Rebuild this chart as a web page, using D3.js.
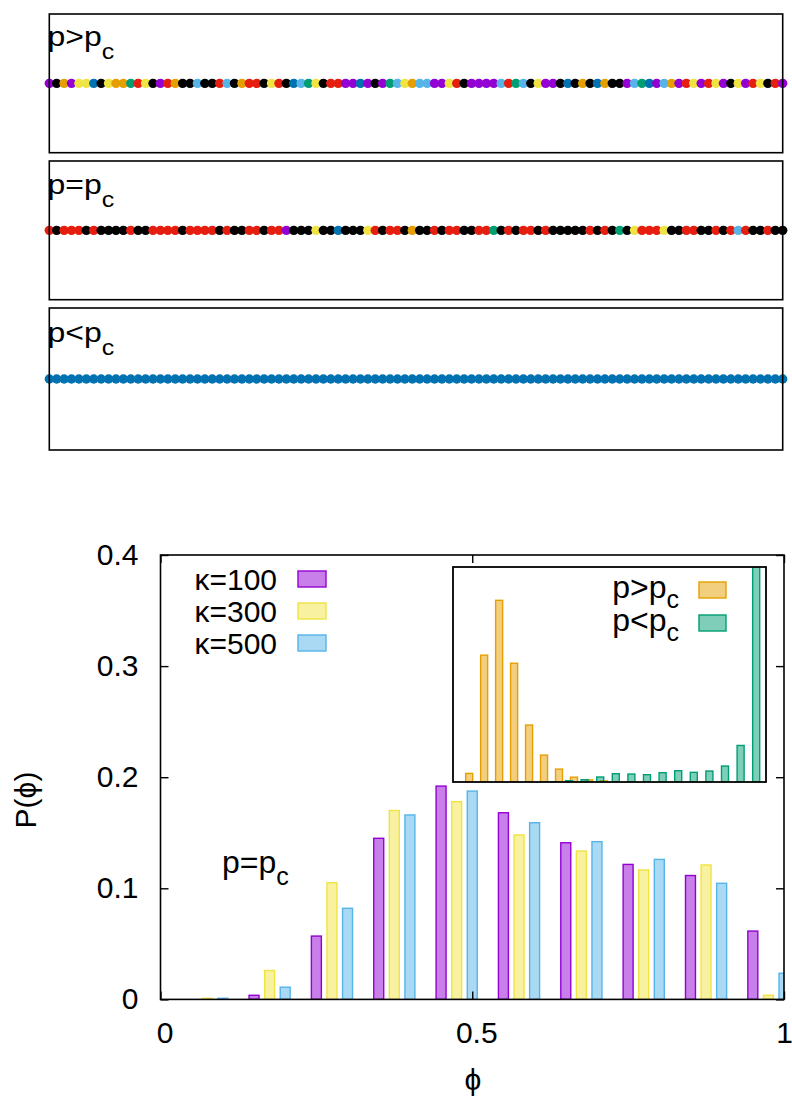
<!DOCTYPE html>
<html><head><meta charset="utf-8">
<script src="https://cdn.jsdelivr.net/npm/d3@7"></script>
<style>
html,body{margin:0;padding:0;background:#fff;}
svg{display:block;font-family:"Liberation Sans",Arial,Helvetica,sans-serif;}
</style></head><body>
<svg id="chart" width="792" height="1098"></svg>
<script>
// ---------- top strips (one dot per site, colour = cluster) ----------
const stripLabels = ["p>p", "p=p", "p<p"];
const stripSub = "c";
const stripRow1 = "PKOPYYBKYO" + "OGRYKPROKK" + "LKKRLKORRK" + "YRKBLGYKRR" + "PPBPKPGLYO" +
                  "LLPPYRKPPP" + "PLRGLKYPPK" + "BKOKBOKKPL" + "GBPLOPRYPR" + "YPKYPRYKRP";
const stripRow2 = "RKRRRKRKKK" + "KRKKRRRRKR" + "RRRKRKKRRK" + "RRPKKKYKKB" + "KKKYRKRRKO" +
                  "KKRKRRKKRR" + "GKRKRRKRKK" + "KKKRKRKGKY" + "RRRYKKRRKK" + "RKRLRKKRKK";
const stripRow3 = "BBBBBBBBBB" + "BBBBBBBBBB" + "BBBBBBBBBB" + "BBBBBBBBBB" + "BBBBBBBBBB" +
                  "BBBBBBBBBB" + "BBBBBBBBBB" + "BBBBBBBBBB" + "BBBBBBBBBB" + "BBBBBBBBBB";
const colorKeys   = ["P", "G", "L", "O", "Y", "B", "R", "K"];
const colorValues = ["#9400d3", "#009e73", "#56b4e9", "#e69f00", "#f0e442", "#0072b2", "#e51e10", "#000000"];

// ---------- main histogram P(phi) at p = p_c ----------
const phiBins   = [0.05, 0.15, 0.25, 0.35, 0.45, 0.55, 0.65, 0.75, 0.85, 0.95];
const seriesNames = ["κ=100", "κ=300", "κ=500"];
const kappa100 = [0.0, 0.0037, 0.057, 0.145, 0.192, 0.168, 0.141, 0.1215, 0.1115, 0.0615];
const kappa300 = [0.0009, 0.026, 0.105, 0.170, 0.178, 0.148, 0.1335, 0.1165, 0.121, 0.0037];
const kappa500 = [0.001, 0.011, 0.082, 0.166, 0.1875, 0.159, 0.142, 0.126, 0.1045, 0.0235];
const seriesColors = ["#9400d3", "#f0e442", "#56b4e9"];
const xTicks = [0, 0.5, 1];
const xTickLabels = ["0", "0.5", "1"];
const yTicks = [0, 0.1, 0.2, 0.3, 0.4];
const yTickLabels = ["0", "0.1", "0.2", "0.3", "0.4"];
const annotation = "p=p";

// ---------- inset ----------
const insetNames = ["p>p", "p<p"];
const orangePhi = [0.055, 0.103, 0.151, 0.199, 0.247, 0.295, 0.343, 0.391, 0.439, 0.487];
const orangeP   = [0.016, 0.236, 0.338, 0.221, 0.106, 0.050, 0.024, 0.009, 0.004, 0.002];
const greenPhi  = [0.325, 0.375, 0.425, 0.475, 0.525, 0.575, 0.625, 0.675, 0.725, 0.775, 0.825, 0.875, 0.925, 0.975];
const greenP    = [0.0006, 0.0025, 0.0043, 0.0093, 0.0155, 0.0148, 0.0136, 0.0173, 0.021, 0.018, 0.0204, 0.0297, 0.068, 0.45];
const insetColors = ["#e69f00", "#009e73"];

// =====================================================================
const svg = d3.select("#chart");
const color = d3.scaleOrdinal().domain(colorKeys).range(colorValues);

// ---- strips ----
const stripLeft = 49.3, stripRight = 782.7;
const stripBoxes = [[14, 152.7], [161, 299.7], [308, 450]];
const stripBaselines = [46, 194, 342];
const stripRows = [stripRow1, stripRow2, stripRow3];
const stripX = d3.scaleLinear().domain([0, 99]).range([stripLeft, stripRight]);

stripRows.forEach((row, k) => {
  const [top, bot] = stripBoxes[k];
  const sy = d3.scaleLinear().domain([-1, 1]).range([bot, top]);
  const g = svg.append("g");
  g.selectAll("circle").data(row.split("")).join("circle")
    .attr("cx", (d, i) => stripX(i))
    .attr("cy", sy(0))
    .attr("r", 4.7)
    .attr("fill", d => color(d));
  g.append("rect")
    .attr("x", stripLeft).attr("y", top)
    .attr("width", stripRight - stripLeft).attr("height", bot - top)
    .attr("fill", "none").attr("stroke", "#000").attr("stroke-width", 1.6);
  const lg = g.append("g").attr("transform", `translate(47.5,${stripBaselines[k]}) scale(1,0.88)`);
  const t = lg.append("text").attr("font-size", 32).attr("fill", "#000");
  t.append("tspan").text(stripLabels[k]);
  t.append("tspan").attr("font-size", 25).attr("dy", 15).text(stripSub);
});

// ---- main plot ----
const X0 = 160.5, X1 = 784, Y0 = 999.4, YT = 555;
const x = d3.scaleLinear().domain([0, 1]).range([X0, X1]);
const y = d3.scaleLinear().domain([0, 0.4]).range([Y0, YT]);

svg.append("clipPath").attr("id", "mainClip")
  .append("rect").attr("x", X0).attr("y", YT).attr("width", X1 - X0).attr("height", Y0 - YT);

const series = [kappa100, kappa300, kappa500];
const seriesShift = [0, 0.025, 0.05];
const barW = 0.016;
const bars = svg.append("g").attr("clip-path", "url(#mainClip)");
series.forEach((vals, s) => {
  bars.append("g").selectAll("rect").data(vals).join("rect")
    .attr("x", (d, i) => x(phiBins[i] + seriesShift[s] - barW / 2))
    .attr("width", x(barW) - x(0))
    .attr("y", d => y(d))
    .attr("height", d => y(0) - y(d))
    .attr("fill", seriesColors[s]).attr("fill-opacity", 0.5)
    .attr("stroke", seriesColors[s]).attr("stroke-width", 1.4);
});

// axes
const axisFont = 30;
const gL = svg.append("g").attr("transform", `translate(${X0},0)`)
  .call(d3.axisLeft(y).tickValues(yTicks).tickFormat((d, i) => yTickLabels[i]).tickSize(-8).tickPadding(22));
const gR = svg.append("g").attr("transform", `translate(${X1},0)`)
  .call(d3.axisRight(y).tickValues(yTicks).tickFormat("").tickSize(-8));
const gB = svg.append("g").attr("transform", `translate(0,${Y0})`)
  .call(d3.axisBottom(x).tickValues(xTicks).tickFormat((d, i) => xTickLabels[i]).tickSize(-8).tickPadding(22));
const gT = svg.append("g").attr("transform", `translate(0,${YT})`)
  .call(d3.axisTop(x).tickValues(xTicks).tickFormat("").tickSize(-8));
[gL, gR, gB, gT].forEach(g => {
  g.select(".domain").remove();
  g.selectAll(".tick line").attr("stroke", "#000").attr("stroke-width", 1.4);
  g.selectAll("text").attr("font-size", axisFont).attr("fill", "#000")
    .attr("font-family", '"Liberation Sans",Arial,sans-serif');
});
gL.selectAll("text").attr("dy", "0.3em");
gB.selectAll("text").attr("dx", (d, i) => i === xTicks.length - 1 ? 0 : 4).attr("dy", "0.71em");

svg.append("rect").attr("x", X0).attr("y", YT).attr("width", X1 - X0).attr("height", Y0 - YT)
  .attr("fill", "none").attr("stroke", "#000").attr("stroke-width", 1.6);

// axis titles
svg.append("text").attr("transform", `translate(36,800) rotate(-90)`)
  .attr("text-anchor", "middle").attr("font-size", 30).text("P(ϕ)");
svg.append("text").attr("x", 473).attr("y", 1090)
  .attr("text-anchor", "middle").attr("font-size", 30).text("ϕ");

// annotation p=p_c
const ann = svg.append("text").attr("x", 222).attr("y", 873).attr("font-size", 32);
ann.append("tspan").text(annotation);
ann.append("tspan").attr("font-size", 25).attr("dy", 12).text(stripSub);

// main legend
const legRows = [579, 611, 643];
seriesNames.forEach((nm, s) => {
  svg.append("text").attr("x", 277).attr("y", legRows[s] + 11)
    .attr("text-anchor", "end").attr("font-size", 30).text(nm);
  svg.append("rect").attr("x", 298).attr("y", legRows[s] - 8).attr("width", 28).attr("height", 16)
    .attr("fill", seriesColors[s]).attr("fill-opacity", 0.5)
    .attr("stroke", seriesColors[s]).attr("stroke-width", 1.4);
});

// ---- inset ----
const IX0 = 453, IX1 = 766, IY0 = 782, IYT = 567;
const ix = d3.scaleLinear().domain([0, 1]).range([452, 764]);
const iy = d3.scaleLinear().domain([0, 0.4]).range([IY0, IYT]);
svg.append("rect").attr("x", IX0).attr("y", IYT).attr("width", IX1 - IX0).attr("height", IY0 - IYT)
  .attr("fill", "#fff");
svg.append("clipPath").attr("id", "insetClip")
  .append("rect").attr("x", IX0).attr("y", IYT).attr("width", IX1 - IX0).attr("height", IY0 - IYT);
const ibW = 0.0225;
const ig = svg.append("g").attr("clip-path", "url(#insetClip)");
[[orangePhi, orangeP], [greenPhi, greenP]].forEach(([xs, vs], s) => {
  ig.append("g").selectAll("rect").data(vs).join("rect")
    .attr("x", (d, i) => ix(xs[i] - ibW / 2))
    .attr("width", ix(ibW) - ix(0))
    .attr("y", d => iy(d))
    .attr("height", d => iy(0) - iy(d))
    .attr("fill", insetColors[s]).attr("fill-opacity", 0.5)
    .attr("stroke", insetColors[s]).attr("stroke-width", 1.4);
});
svg.append("rect").attr("x", IX0).attr("y", IYT).attr("width", IX1 - IX0).attr("height", IY0 - IYT)
  .attr("fill", "none").attr("stroke", "#000").attr("stroke-width", 1.8);

const insetRows = [590, 623];
insetNames.forEach((nm, s) => {
  const t = svg.append("text").attr("x", 679).attr("y", insetRows[s] + 8)
    .attr("text-anchor", "end").attr("font-size", 32);
  t.append("tspan").text(nm);
  t.append("tspan").attr("font-size", 25).attr("dy", 10).text(stripSub);
  svg.append("rect").attr("x", 699).attr("y", insetRows[s] - 8).attr("width", 27).attr("height", 16)
    .attr("fill", insetColors[s]).attr("fill-opacity", 0.5)
    .attr("stroke", insetColors[s]).attr("stroke-width", 1.4);
});
</script>
</body></html>
